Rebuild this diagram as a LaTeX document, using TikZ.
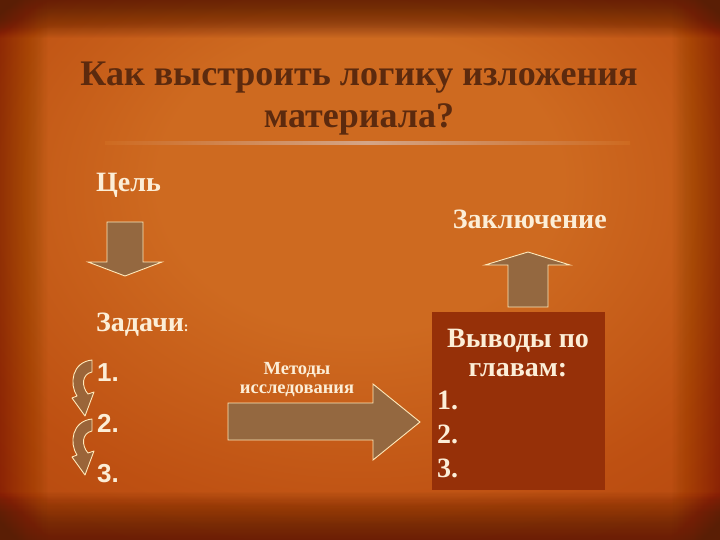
\documentclass[tikz,border=0pt]{standalone}
\usepackage{fontspec}
\setmainfont{Liberation Serif}
\newfontfamily\arialfont{Liberation Sans}
\definecolor{bgA}{RGB}{206,106,32}
\definecolor{bgB}{RGB}{190,80,18}
\definecolor{bgC}{RGB}{170,64,12}
\definecolor{bgD}{RGB}{90,30,5}
\definecolor{titlecol}{RGB}{92,42,14}
\definecolor{cream}{RGB}{252,238,215}
\definecolor{arrowfill}{RGB}{148,104,64}
\definecolor{arrowline}{RGB}{255,232,185}
\definecolor{boxfill}{RGB}{150,48,8}
\pgfdeclareradialshading{bgshade}{\pgfpoint{0bp}{10bp}}{color(0bp)=(bgA); color(14bp)=(bgA); color(30bp)=(bgB); color(50bp)=(bgC); color(80bp)=(bgC)}
\tikzset{
  titletext/.style={font=\bfseries\fontsize{36}{40}\selectfont, text=titlecol, inner sep=0pt},
  labeltext/.style={font=\bfseries\fontsize{28}{32}\selectfont, text=cream, inner sep=0pt},
  numtext/.style={font=\arialfont\bfseries\fontsize{26}{30}\selectfont, text=cream, inner sep=0pt},
  smalltext/.style={font=\bfseries\fontsize{18.5}{22}\selectfont, text=cream, inner sep=0pt},
  bigarrow/.style={fill=arrowfill, draw=arrowline, line width=0.9pt, line join=miter},
}
\begin{document}
\begin{tikzpicture}[x=1pt,y=-1pt]
\useasboundingbox (0,0) rectangle (720,540);
\shade[shading=bgshade] (0,0) rectangle (720,540);
% darker borders
\foreach \i in {0,...,39} {
  \fill[bgD, fill opacity=0.035] (0,0) rectangle (720,{0.95*(40-\i)});
  \fill[bgD, fill opacity=0.03] (0,540) rectangle (720,{540-1.2*(40-\i)});
  \fill[bgD, fill opacity=0.012] (0,0) rectangle ({1.2*(40-\i)},540);
  \fill[bgD, fill opacity=0.012] (720,0) rectangle ({720-1.2*(40-\i)},540);
}
% title
\node[titletext, anchor=base] (t1) at (359,86) {Как выстроить логику изложения};
\node[titletext, anchor=base] (t2) at (359,128) {материала?};
\shade[left color=bgA, right color=bgA, middle color={rgb,255:red,212;green,165;blue,135}] (105,141.5) rectangle (630,144.5);
% left column
\node[labeltext, anchor=base west] (goal) at (96,192) {Цель};
\draw[bigarrow] (107,222) -- (143,222) -- (143,262) -- (162,262) -- (125,276) -- (88,262) -- (107,262) -- cycle;
\node[labeltext, anchor=base west] (tasks) at (96,331) {Задачи\fontsize{14}{16}\selectfont:};
\node[numtext, anchor=base west] (n1) at (97,381) {1.};
\node[numtext, anchor=base west] (n2) at (97,432) {2.};
\node[numtext, anchor=base west] (n3) at (97,482) {3.};
\foreach \dy in {0, 59} {
  \begin{scope}[yshift=-\dy pt]
  \draw[bigarrow, line join=round, fill opacity=0.85] (92,360) .. controls (72,362) and (69,384) .. (77,396)
     -- (72,398) -- (85,416) -- (94,392) -- (88,394)
     .. controls (81,386) and (82,374) .. (92,372) -- cycle;
  \end{scope}
}
% middle arrow
\node[smalltext, anchor=base] (m1) at (297,374) {Методы};
\node[smalltext, anchor=base] (m2) at (297,393) {исследования};
\draw[bigarrow] (228,403) -- (373,403) -- (373,384) -- (420,422) -- (373,460) -- (373,440) -- (228,440) -- cycle;
% right column
\node[labeltext, anchor=base east] (concl) at (607,229) {Заключение};
\draw[bigarrow] (508,307) -- (508,265) -- (485,265) -- (528,252) -- (570,265) -- (548,265) -- (548,307) -- cycle;
\fill[boxfill] (432,312) rectangle (605,490);
\node[labeltext, anchor=base] (r1) at (518,347) {Выводы по};
\node[labeltext, anchor=base] (r2) at (518,376) {главам:};
\node[labeltext, anchor=base west] (k1) at (437,409) {1.};
\node[labeltext, anchor=base west] (k2) at (437,443) {2.};
\node[labeltext, anchor=base west] (k3) at (437,477) {3.};
\end{tikzpicture}
\end{document}
